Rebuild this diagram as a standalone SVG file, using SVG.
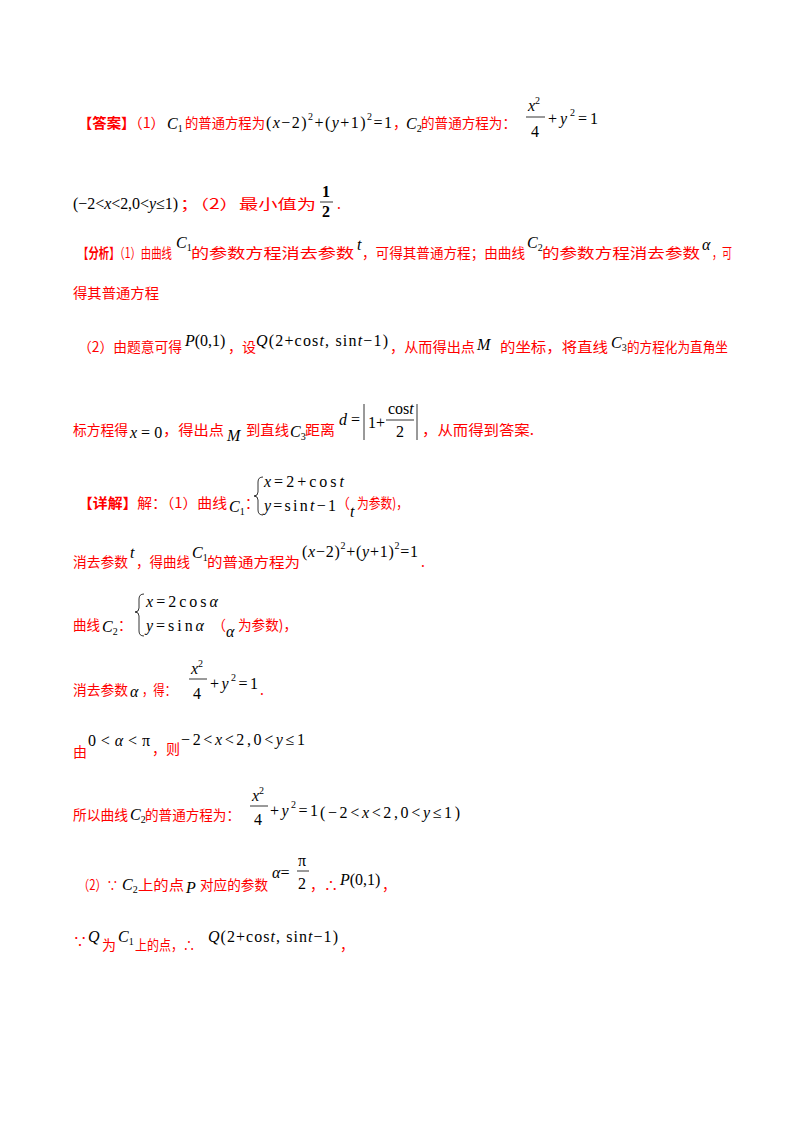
<svg xmlns="http://www.w3.org/2000/svg" width="800" height="1132" viewBox="0 0 800 1132">
<style>
.r{fill:#ff0000;font-family:"Noto Sans CJK SC",sans-serif;font-size:14px}
.b{font-weight:bold}
.m{fill:#000;font-family:"Liberation Serif",serif;font-size:16px}
.i{font-style:italic}
.s{font-size:10px}
.ln{stroke:#000;stroke-width:0.8;fill:none}
</style>
<rect width="800" height="1132" fill="#fff"/>
<g id="answer">
<text class="r" x="78" y="128" textLength="87" lengthAdjust="spacingAndGlyphs"><tspan class="b">【答案】</tspan>（1）</text>
<text class="m" x="167" y="129"><tspan class="i">C</tspan><tspan class="s" dy="3">1</tspan></text>
<text class="r" x="185" y="128" textLength="80" lengthAdjust="spacingAndGlyphs">的普通方程为</text>
<text class="m" x="266" y="128" textLength="126">(<tspan class="i">x</tspan>−2)<tspan class="s" dy="-8">2</tspan><tspan dy="8">+(</tspan><tspan class="i">y</tspan>+1)<tspan class="s" dy="-8">2</tspan><tspan dy="8">=1</tspan></text>
<text class="r" x="393" y="128">，</text>
<text class="m" x="406" y="129"><tspan class="i">C</tspan><tspan class="s" dy="3">2</tspan></text>
<text class="r" x="421" y="128" textLength="95" lengthAdjust="spacingAndGlyphs">的普通方程为：</text>
<text class="m" x="528" y="111"><tspan class="i">x</tspan><tspan class="s" dy="-7">2</tspan></text>
<line class="ln" x1="526" y1="117" x2="545" y2="117"/>
<text class="m" x="531" y="137">4</text>
<text class="m" x="548" y="124" textLength="50">+<tspan class="i">y</tspan><tspan class="s" dy="-8">2</tspan><tspan dy="8">=1</tspan></text>
<text class="m" x="73" y="209" textLength="105">(−2&lt;<tspan class="i">x</tspan>&lt;2,0&lt;<tspan class="i">y</tspan>≤1)</text>
<text class="r" x="180" y="209" textLength="136" lengthAdjust="spacingAndGlyphs">；（2）最小值为</text>
<text class="m b" x="322" y="197">1</text>
<line class="ln" x1="320" y1="202" x2="333" y2="202"/>
<text class="m b" x="322" y="217">2</text>
<text class="r" x="337" y="209">.</text>
</g>
<g id="analysis">
<text class="r" x="78" y="258" textLength="94" lengthAdjust="spacingAndGlyphs"><tspan class="b">【分析】</tspan>（1）由曲线</text>
<text class="m" x="176" y="248"><tspan class="i">C</tspan><tspan class="s" dy="3">1</tspan></text>
<text class="r" x="191" y="258" textLength="163" lengthAdjust="spacingAndGlyphs">的参数方程消去参数</text>
<text class="m i" x="357" y="250">t</text>
<text class="r" x="362" y="258" textLength="163" lengthAdjust="spacingAndGlyphs">，可得其普通方程；由曲线</text>
<text class="m" x="527" y="248"><tspan class="i">C</tspan><tspan class="s" dy="3">2</tspan></text>
<text class="r" x="542" y="258" textLength="158" lengthAdjust="spacingAndGlyphs">的参数方程消去参数</text>
<text class="m i" x="702" y="250">α</text>
<text class="r" x="712" y="258" textLength="20" lengthAdjust="spacingAndGlyphs">，可</text>
<text class="r" x="73" y="298" textLength="86" lengthAdjust="spacingAndGlyphs">得其普通方程</text>
<text class="r" x="78" y="352" textLength="104" lengthAdjust="spacingAndGlyphs">（2）由题意可得</text>
<text class="m" x="185" y="346"><tspan class="i">P</tspan>(0,1)</text>
<text class="r" x="228" y="352">，设</text>
<text class="m" x="256" y="346" textLength="132"><tspan class="i">Q</tspan>(2+cos<tspan class="i">t</tspan>, sin<tspan class="i">t</tspan>−1)</text>
<text class="r" x="390" y="352" textLength="85" lengthAdjust="spacingAndGlyphs">，从而得出点</text>
<text class="m i" x="477" y="350">M</text>
<text class="r" x="500" y="352" textLength="108" lengthAdjust="spacingAndGlyphs">的坐标，将直线</text>
<text class="m" x="611" y="348"><tspan class="i">C</tspan><tspan class="s" dy="3">3</tspan></text>
<text class="r" x="627" y="352" textLength="101" lengthAdjust="spacingAndGlyphs">的方程化为直角坐</text>
<text class="r" x="73" y="435" textLength="55" lengthAdjust="spacingAndGlyphs">标方程得</text>
<text class="m" x="130" y="438"><tspan class="i">x</tspan> = 0</text>
<text class="r" x="163" y="435" textLength="61" lengthAdjust="spacingAndGlyphs">，得出点</text>
<text class="m i" x="227" y="441">M</text>
<text class="r" x="246" y="435" textLength="43" lengthAdjust="spacingAndGlyphs">到直线</text>
<text class="m" x="290" y="437"><tspan class="i">C</tspan><tspan class="s" dy="3">3</tspan></text>
<text class="r" x="305" y="435" textLength="30" lengthAdjust="spacingAndGlyphs">距离</text>
<text class="m" x="339" y="425"><tspan class="i">d</tspan> =</text>
<line class="ln" x1="364" y1="404" x2="364" y2="440"/>
<text class="m" x="368" y="428">1+</text>
<text class="m" x="388" y="414">cos<tspan class="i">t</tspan></text>
<line class="ln" x1="386" y1="420" x2="414" y2="420"/>
<text class="m" x="396" y="437">2</text>
<line class="ln" x1="417" y1="404" x2="417" y2="440"/>
<text class="r" x="422" y="435" textLength="112" lengthAdjust="spacingAndGlyphs">，从而得到答案.</text>
</g>
<g id="detail">
<text class="r" x="78" y="508" textLength="149" lengthAdjust="spacingAndGlyphs"><tspan class="b">【详解】</tspan>解：（1）曲线</text>
<text class="m" x="229" y="512"><tspan class="i">C</tspan><tspan class="s" dy="3">1</tspan></text>
<text class="r" x="245" y="508">：</text>
<path class="ln" d="M263 477 Q258 477 258 482 L258 492 Q258 496 254 496 Q258 496 258 500 L258 510 Q258 515 263 515"/>
<text class="m" x="264" y="487" textLength="80"><tspan class="i">x</tspan>=2+cos<tspan class="i">t</tspan></text>
<text class="m" x="264" y="511" textLength="72"><tspan class="i">y</tspan>=sin<tspan class="i">t</tspan>−1</text>
<text class="r" x="336" y="508">（</text>
<text class="m i" x="350" y="517">t</text>
<text class="r" x="357" y="508" textLength="51" lengthAdjust="spacingAndGlyphs">为参数)，</text>
<text class="r" x="73" y="567" textLength="55" lengthAdjust="spacingAndGlyphs">消去参数</text>
<text class="m i" x="130" y="558">t</text>
<text class="r" x="136" y="567" textLength="54" lengthAdjust="spacingAndGlyphs">，得曲线</text>
<text class="m" x="192" y="558"><tspan class="i">C</tspan><tspan class="s" dy="3">1</tspan></text>
<text class="r" x="207" y="567" textLength="93" lengthAdjust="spacingAndGlyphs">的普通方程为</text>
<text class="m" x="302" y="557" textLength="116">(<tspan class="i">x</tspan>−2)<tspan class="s" dy="-8">2</tspan><tspan dy="8">+(</tspan><tspan class="i">y</tspan>+1)<tspan class="s" dy="-8">2</tspan><tspan dy="8">=1</tspan></text>
<text class="r" x="421" y="567">.</text>
<text class="r" x="73" y="630" textLength="27" lengthAdjust="spacingAndGlyphs">曲线</text>
<text class="m" x="102" y="632"><tspan class="i">C</tspan><tspan class="s" dy="3">2</tspan></text>
<text class="r" x="118" y="630">：</text>
<path class="ln" d="M144 594 Q139 594 139 599 L139 608 Q139 612 135 612 Q139 612 139 616 L139 631 Q139 636 144 636"/>
<text class="m" x="146" y="607" textLength="72"><tspan class="i">x</tspan>=2cos<tspan class="i">α</tspan></text>
<text class="m" x="146" y="631" textLength="58"><tspan class="i">y</tspan>=sin<tspan class="i">α</tspan></text>
<text class="r" x="212" y="630">（</text>
<text class="m i" x="226" y="637">α</text>
<text class="r" x="238" y="630" textLength="59" lengthAdjust="spacingAndGlyphs">为参数)，</text>
<text class="r" x="73" y="695" textLength="55" lengthAdjust="spacingAndGlyphs">消去参数</text>
<text class="m i" x="130" y="697">α</text>
<text class="r" x="142" y="695" textLength="34" lengthAdjust="spacingAndGlyphs">，得：</text>
<text class="m" x="191" y="674"><tspan class="i">x</tspan><tspan class="s" dy="-7">2</tspan></text>
<text class="m" x="193" y="699">4</text>
<line class="ln" x1="189" y1="679" x2="207" y2="679"/>
<text class="m" x="210" y="689" textLength="48">+<tspan class="i">y</tspan><tspan class="s" dy="-8">2</tspan><tspan dy="8">=1</tspan></text>
<text class="r" x="260" y="695">.</text>
<text class="r" x="73" y="757">由</text>
<text class="m" x="88" y="746" textLength="62">0&lt;<tspan class="i">α</tspan>&lt;π</text>
<text class="r" x="152" y="754">，则</text>
<text class="m" x="181" y="745" textLength="124">−2&lt;<tspan class="i">x</tspan>&lt;2,0&lt;<tspan class="i">y</tspan>≤1</text>
<text class="r" x="73" y="820" textLength="55" lengthAdjust="spacingAndGlyphs">所以曲线</text>
<text class="m" x="130" y="820"><tspan class="i">C</tspan><tspan class="s" dy="3">2</tspan></text>
<text class="r" x="145" y="820" textLength="95" lengthAdjust="spacingAndGlyphs">的普通方程为：</text>
<text class="m" x="252" y="801"><tspan class="i">x</tspan><tspan class="s" dy="-7">2</tspan></text>
<text class="m" x="254" y="825">4</text>
<line class="ln" x1="250" y1="806" x2="268" y2="806"/>
<text class="m" x="270" y="816" textLength="48">+<tspan class="i">y</tspan><tspan class="s" dy="-8">2</tspan><tspan dy="8">=1</tspan></text>
<text class="m" x="320" y="818" textLength="140">(−2&lt;<tspan class="i">x</tspan>&lt;2,0&lt;<tspan class="i">y</tspan>≤1)</text>
<text class="r" x="78" y="890" textLength="40" lengthAdjust="spacingAndGlyphs">（2）∵</text>
<text class="m" x="122" y="890"><tspan class="i">C</tspan><tspan class="s" dy="3">2</tspan></text>
<text class="r" x="138" y="890" textLength="46" lengthAdjust="spacingAndGlyphs">上的点</text>
<text class="m i" x="186" y="893">P</text>
<text class="r" x="200" y="890" textLength="68" lengthAdjust="spacingAndGlyphs">对应的参数</text>
<text class="m" x="272" y="878"><tspan class="i">α</tspan>=</text>
<text class="m" x="298" y="866">π</text>
<line class="ln" x1="297" y1="871" x2="309" y2="871"/>
<text class="m" x="298" y="889">2</text>
<text class="r" x="310" y="890">，∴</text>
<text class="m" x="340" y="885"><tspan class="i">P</tspan>(0,1)</text>
<text class="r" x="382" y="890">，</text>
<text class="r" x="73" y="946">∵</text>
<text class="m i" x="88" y="942">Q</text>
<text class="r" x="102" y="950">为</text>
<text class="m" x="118" y="942"><tspan class="i">C</tspan><tspan class="s" dy="3">1</tspan></text>
<text class="r" x="135" y="950" textLength="60" lengthAdjust="spacingAndGlyphs">上的点，∴</text>
<text class="m" x="208" y="942" textLength="130"><tspan class="i">Q</tspan>(2+cos<tspan class="i">t</tspan>, sin<tspan class="i">t</tspan>−1)</text>
<text class="r" x="340" y="950">，</text>
</g>
</svg>
